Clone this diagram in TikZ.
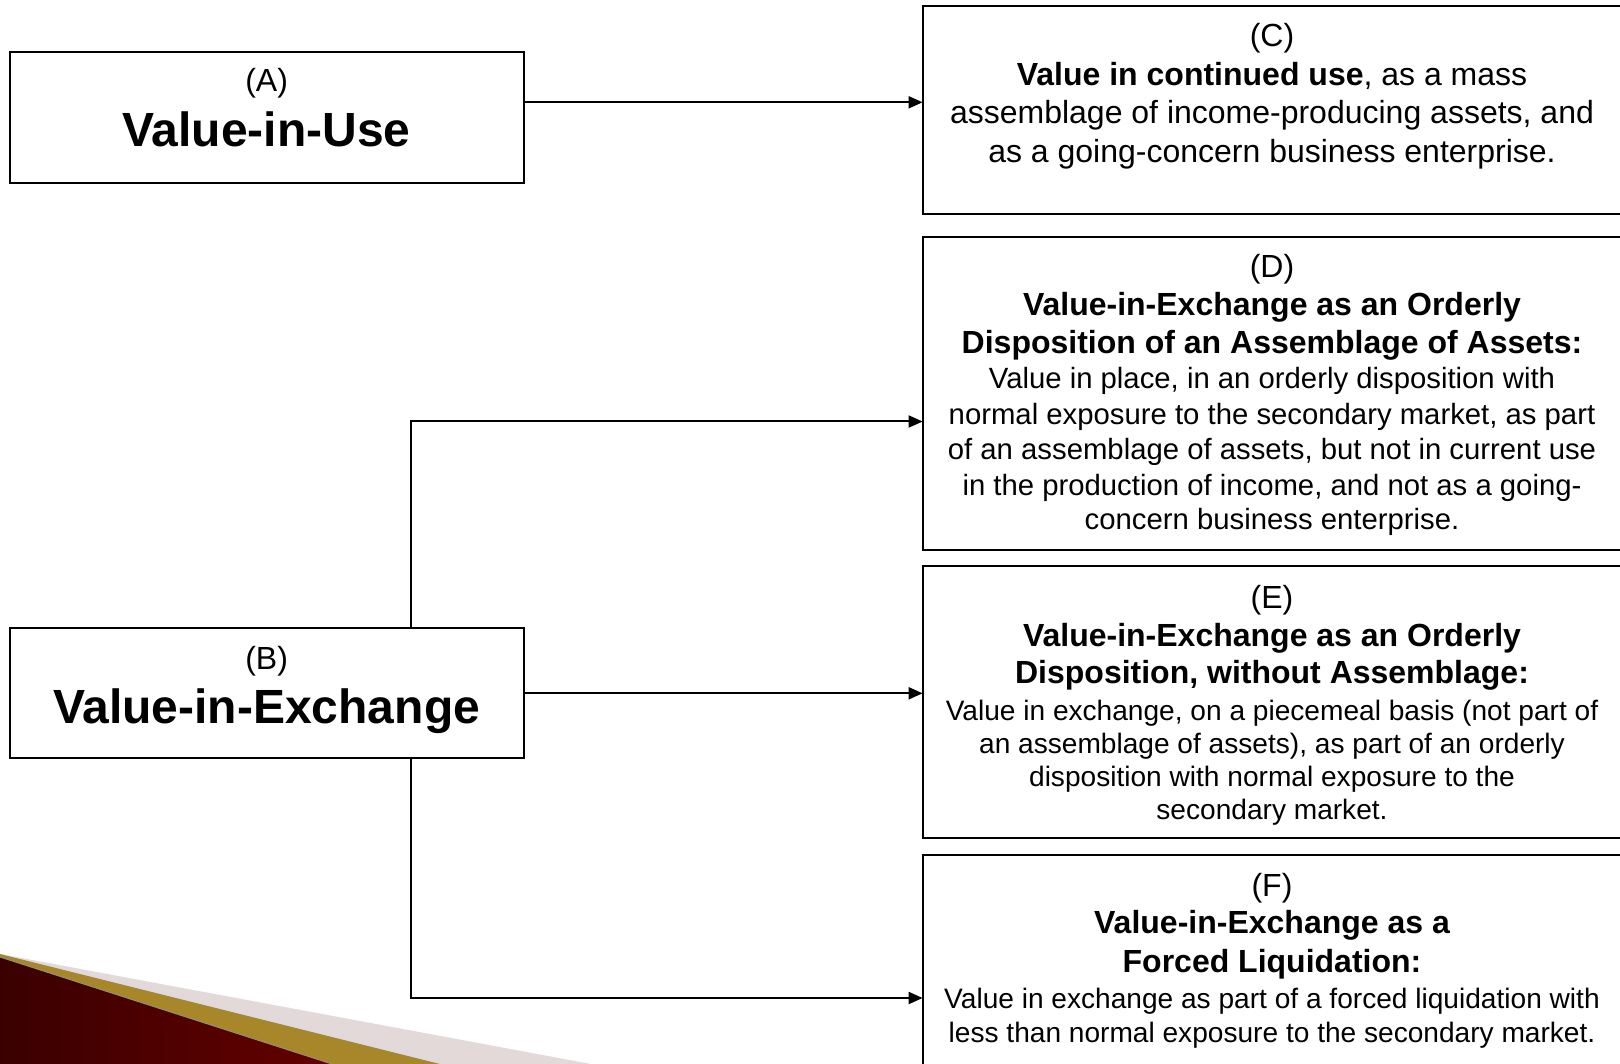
\documentclass[tikz,border=0pt]{standalone}
\usepackage{fontspec}
\setmainfont{Liberation Sans}
\usetikzlibrary{arrows.meta}
\definecolor{maroonL}{HTML}{3A0000}
\definecolor{maroonR}{HTML}{640000}
\definecolor{goldband}{HTML}{A8872A}
\definecolor{pinkband}{HTML}{E3D9D9}
\tikzset{
  box/.style={draw=black, line width=2pt, fill=white, inner sep=0pt, outer sep=0pt, anchor=north west},
  conn/.style={draw=black, line width=2pt, -{Triangle[length=14pt,width=12pt]}},
  tbig/.style={font=\fontsize{48}{56}\selectfont\bfseries, anchor=base, inner sep=0pt},
  tlab/.style={font=\fontsize{32}{38}\selectfont, anchor=base, inner sep=0pt},
  thead/.style={font=\fontsize{32}{38}\selectfont\bfseries, anchor=base, inner sep=0pt},
  tD/.style={font=\fontsize{29.3}{35}\selectfont, anchor=base, inner sep=0pt},
  tE/.style={font=\fontsize{28.1}{33}\selectfont, anchor=base, inner sep=0pt},
  tF/.style={font=\fontsize{28.1}{34}\selectfont, anchor=base, inner sep=0pt},
}
\begin{document}
\begin{tikzpicture}[x=1pt,y=-1pt]
\useasboundingbox (0,0) rectangle (1620,1064);
\fill[white] (0,0) rectangle (1620,1064);
% decoration
\fill[pinkband] (0,954) -- (591,1064) -- (0,1064) -- cycle;
\fill[goldband] (0,954) -- (440,1064) -- (0,1064) -- cycle;
\shade[left color=maroonL, right color=maroonR] (0,957) -- (332,1064) -- (0,1064) -- cycle;
\draw[line width=1pt, color=black!35!pinkband] (0,957) -- (332,1064);
% boxes
\node[box, minimum width=513.5pt, minimum height=131.2pt] (A) at (10.3,51.7) {};
\node[box, minimum width=513.5pt, minimum height=130.2pt] (B) at (10.3,628.2) {};
\node[box, minimum width=700pt, minimum height=207.7pt] (C) at (922.6,6.2) {};
\node[box, minimum width=700pt, minimum height=313.1pt] (D) at (922.6,236.6) {};
\node[box, minimum width=700pt, minimum height=271.7pt] (E) at (922.6,566.2) {};
\node[box, minimum width=700pt, minimum height=230pt] (F) at (922.6,854.5) {};
% texts A, B
\node[tlab] (At1) at (266.6,91.6) {(A)};
\node[tbig] (At2) at (266.6,147) {Value-in-Use};
\node[tlab] (Bt1) at (266.6,669) {(B)};
\node[tbig] (Bt2) at (266.6,723.7) {Value-in-Exchange};
% text C
\node[tlab] (Ct1) at (1272,47) {(C)};
\node[tlab] (Ct2) at (1272,85.5) {\textbf{Value in continued use}, as a mass};
\node[tlab] (Ct3) at (1272,124) {assemblage of income-producing assets, and};
\node[tlab] (Ct4) at (1272,163) {as a going-concern business enterprise.};
% text D
\node[tlab] (Dt1) at (1272,277.6) {(D)};
\node[thead] (Dt2) at (1272,316) {Value-in-Exchange as an Orderly};
\node[thead] (Dt3) at (1272,354) {Disposition of an Assemblage of Assets:};
\node[tD] (Dt4) at (1272,389) {Value in place, in an orderly disposition with};
\node[tD] (Dt5) at (1272,424.3) {normal exposure to the secondary market, as part};
\node[tD] (Dt6) at (1272,460) {of an assemblage of assets, but not in current use};
\node[tD] (Dt7) at (1272,495.6) {in the production of income, and not as a going-};
\node[tD] (Dt8) at (1272,529.7) {concern business enterprise.};
% text E
\node[tlab] (Et1) at (1272,608) {(E)};
\node[thead] (Et2) at (1272,646.4) {Value-in-Exchange as an Orderly};
\node[thead] (Et3) at (1272,683.6) {Disposition, without Assemblage:};
\node[tE] (Et4) at (1272,720.5) {Value in exchange, on a piecemeal basis (not part of};
\node[tE] (Et5) at (1272,753.6) {an assemblage of assets), as part of an orderly};
\node[tE] (Et6) at (1272,786.7) {disposition with normal exposure to the};
\node[tE] (Et7) at (1272,819.7) {secondary market.};
% text F
\node[tlab] (Ft1) at (1272,896.5) {(F)};
\node[thead] (Ft2) at (1272,933.6) {Value-in-Exchange as a};
\node[thead] (Ft3) at (1272,972) {Forced Liquidation:};
\node[tF] (Ft4) at (1272,1008) {Value in exchange as part of a forced liquidation with};
\node[tF] (Ft5) at (1272,1042) {less than normal exposure to the secondary market.};
% connectors
\coordinate (yAC) at (0,102.3);
\coordinate (yD) at (0,421.5);
\coordinate (yF) at (0,998);
\coordinate (xT) at (411.2,0);
\draw[conn] (A.east |- yAC) -- (C.west |- yAC);
\draw[conn] (B.north -| xT) |- (D.west |- yD);
\draw[conn] (B.east) -- (E.west |- B.east);
\draw[conn] (B.south -| xT) |- (F.west |- yF);
\end{tikzpicture}
\end{document}
